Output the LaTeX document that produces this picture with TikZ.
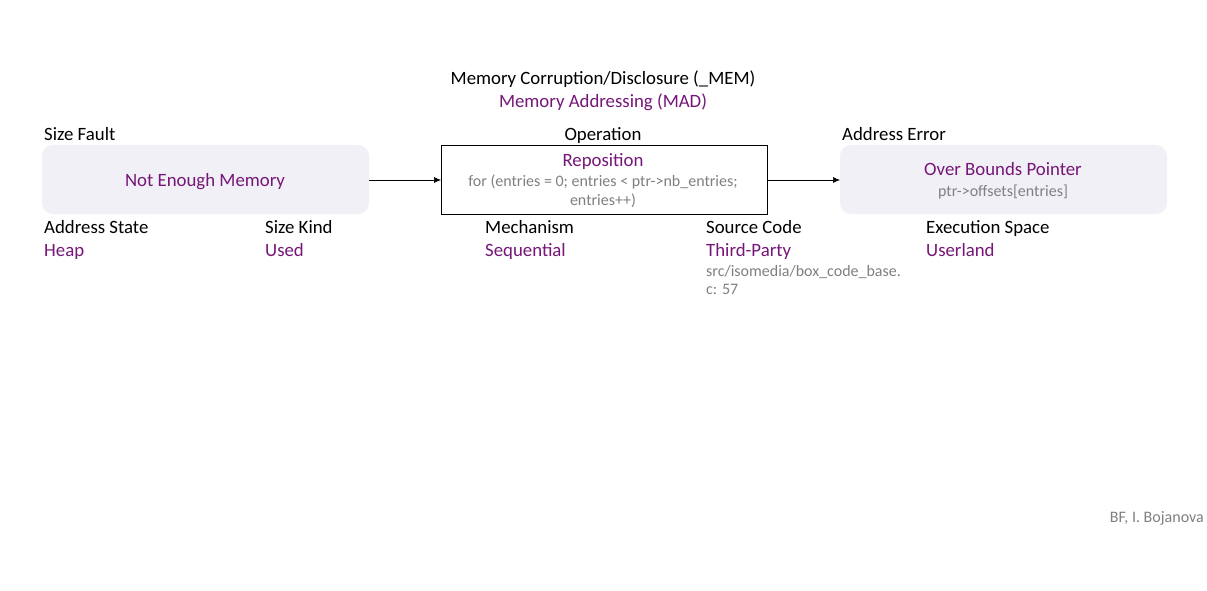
\documentclass[tikz,border=0pt]{standalone}
\usepackage{fontspec}
\setmainfont{Carlito}
\usetikzlibrary{arrows.meta}
\definecolor{bfpurple}{RGB}{118,22,120}
\definecolor{bfgray}{RGB}{128,128,128}
\definecolor{bffill}{RGB}{241,240,246}
\begin{document}
\begin{tikzpicture}[x=1pt,y=-1pt,
  lbl/.style={inner sep=0pt,anchor=base,font=\fontsize{18.8}{22}\selectfont,text=black},
  val/.style={inner sep=0pt,anchor=base,font=\fontsize{18.8}{22}\selectfont,text=bfpurple},
  note/.style={inner sep=0pt,anchor=base,font=\fontsize{16}{20}\selectfont,text=bfgray},
  softbox/.style={fill=bffill,rounded corners=11pt,draw=none},
  opbox/.style={draw=black,line width=0.8pt,fill=white},
  conn/.style={-{Latex[length=7pt,width=6pt]},line width=0.7pt}]
\useasboundingbox (0,0) rectangle (1207,591);
\fill[white] (0,0) rectangle (1207,591);

% header
\node[lbl] (cls) at (603,85) {Memory Corruption/Disclosure (\_MEM)};
\node[val] (sub) at (603,108) {Memory Addressing (MAD)};

% cause
\node[lbl,anchor=base west] (szf) at (44,140) {Size Fault};
\path[softbox] (42,145) rectangle (369,214);
\coordinate (b1e) at (369,180);
\node[val] (b1) at (205,186.5) {Not Enough Memory};

% operation
\node[lbl] (oper) at (603,140) {Operation};
\path[opbox] (441,145) rectangle (767,214);
\coordinate (b2w) at (441,180);
\coordinate (b2e) at (767,180);
\node[val] (b2) at (603,166) {Reposition};
\node[note] (code1) at (603,186) {for (entries = 0; entries < ptr->nb\_entries;};
\node[note] (code2) at (603,205.5) {entries++)};

% consequence
\node[lbl,anchor=base west] (adde) at (842,140) {Address Error};
\path[softbox] (840,145) rectangle (1167,214);
\coordinate (b3w) at (840,180);
\node[val] (b3) at (1003,175.5) {Over Bounds Pointer};
\node[note] (b3c) at (1003,196) {ptr->offsets[entries]};

% connectors
\draw[conn] (b1e) -- (b2w);
\draw[conn] (b2e) -- (b3w);

% attributes
\node[lbl,anchor=base west] (as) at (44,233) {Address State};
\node[val,anchor=base west] (asv) at (44,256) {Heap};
\node[lbl,anchor=base west] (sk) at (265,233) {Size Kind};
\node[val,anchor=base west] (skv) at (265,256) {Used};
\node[lbl,anchor=base west] (me) at (485,233) {Mechanism};
\node[val,anchor=base west] (mev) at (485,256) {Sequential};
\node[lbl,anchor=base west] (sc) at (706,233) {Source Code};
\node[val,anchor=base west] (scv) at (706,256) {Third-Party};
\node[note,anchor=base west] (scf1) at (706,276) {src/isomedia/box\_code\_base.};
\node[note,anchor=base west] (scf2) at (706,294.5) {c: 57};
\node[lbl,anchor=base west] (es) at (926,233) {Execution Space};
\node[val,anchor=base west] (esv) at (926,256) {Userland};

% credit
\node[note,anchor=base east] (cred) at (1204,522) {BF, I. Bojanova};
\end{tikzpicture}
\end{document}
